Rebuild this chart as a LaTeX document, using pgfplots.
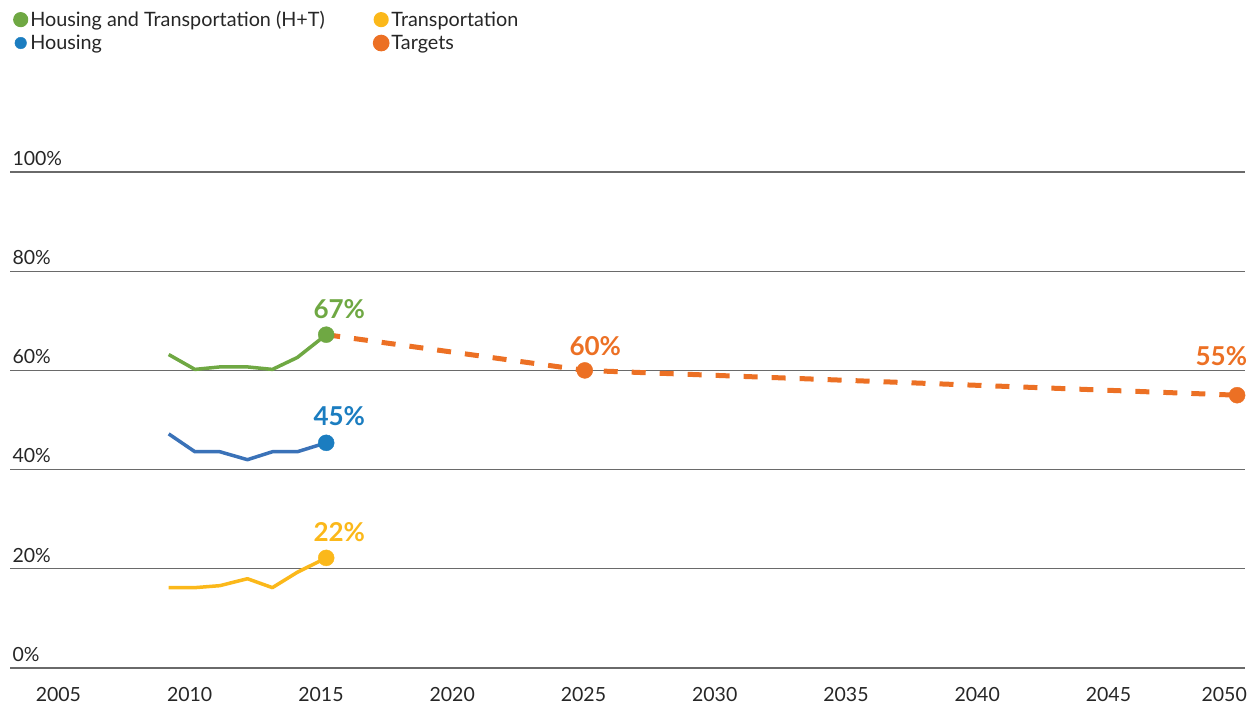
\documentclass[border=0pt]{standalone}
\usepackage{fontspec}
\setmainfont{Lato}
\usepackage{pgfplots}
\pgfplotsset{compat=1.18}
\definecolor{cgreen}{HTML}{6FA843}
\definecolor{cblue}{HTML}{3A72B8}
\definecolor{cbluedot}{HTML}{1B7DC0}
\definecolor{cyellow}{HTML}{FBB81A}
\definecolor{corange}{HTML}{EC7024}
\definecolor{cgrid}{HTML}{6A6A6A}
\begin{document}
\begin{tikzpicture}
\useasboundingbox (0,0) rectangle (1253pt,707pt);
\begin{axis}[
  at={(10pt,39pt)}, anchor=south west,
  scale only axis, width=1235pt, height=496pt,
  xmin=2003.155, xmax=2050.2, ymin=0, ymax=100,
  clip=false,
  axis line style={draw=none},
  major tick length=0pt,
  ytick={0,20,...,100},
  xtick={2005,2010,...,2045},
  extra x ticks={2050},
  extra x tick style={xticklabel style={xshift=-15.5pt}},
  ymajorgrids, grid style={cgrid, line width=1.1pt},
  /pgf/number format/1000 sep={},
  /pgf/number format/assume math mode=true,
  yticklabel={\pgfmathprintnumber{\tick}\%},
  yticklabel style={anchor=south west, xshift=-1pt, yshift=3pt, font=\fontsize{19.5}{22}\selectfont, text=black!85},
  xticklabel style={anchor=center, yshift=-27pt, font=\fontsize{19.5}{22}\selectfont, text=black!85},
  legend columns=2, transpose legend,
  legend style={at={(axis description cs:0.0024,1.3286)}, anchor=north west, draw=none, fill=none,
    font=\fontsize{19.8}{22}\selectfont, text=black!85, inner sep=0pt,
    /tikz/every even column/.append style={column sep=46pt},
    row sep=3pt},
  legend cell align=left,
  legend image code/.code={\path (0pt,0pt) -- (10pt,0pt); \fill[#1, solid] (5.8pt,0pt) circle (5.8pt);},
]
% H+T
\addplot[cgreen, line width=3.5pt, line join=round] coordinates {
 (2009.2,63.2) (2010.2,60.2) (2011.15,60.7) (2012.2,60.7) (2013.15,60.2) (2014.1,62.6) (2015.2,67.2)};
\addlegendentry{Housing and Transportation (H+T)}
% Housing
\addplot[cblue, line width=3.5pt, line join=round, forget plot] coordinates {
 (2009.2,47.2) (2010.2,43.6) (2011.15,43.6) (2012.2,42.0) (2013.15,43.6) (2014.1,43.6) (2015.2,45.4)};
\addlegendimage{cbluedot}
\addlegendentry{Housing}
% Transportation
\addplot[cyellow, line width=3.5pt, line join=round] coordinates {
 (2009.2,16.2) (2010.2,16.2) (2011.15,16.6) (2012.2,18.0) (2013.15,16.2) (2014.1,19.3) (2015.2,22.2)};
\addlegendentry{Transportation}
% Targets
\addplot[corange, line width=5pt, dash pattern=on 14pt off 14pt] coordinates {
 (2015.2,67.2) (2025.05,60) (2049.9,55)};
\addlegendentry{Targets}
% dots
\addplot[only marks, mark=*, mark size=8pt, cgreen, forget plot] coordinates {(2015.2,67.2)};
\addplot[only marks, mark=*, mark size=8pt, cbluedot, forget plot] coordinates {(2015.2,45.4)};
\addplot[only marks, mark=*, mark size=8pt, cyellow, forget plot] coordinates {(2015.2,22.2)};
\addplot[only marks, mark=*, mark size=8pt, corange, forget plot] coordinates {(2025.05,60) (2049.9,55)};
% labels
\node[text=cgreen, font=\fontsize{26}{28}\selectfont\bfseries, anchor=south] at (axis cs:2015.7,69.8) {67\%};
\node[text=cbluedot, font=\fontsize{26}{28}\selectfont\bfseries, anchor=south] at (axis cs:2015.7,48.2) {45\%};
\node[text=cyellow, font=\fontsize{26}{28}\selectfont\bfseries, anchor=south] at (axis cs:2015.7,24.8) {22\%};
\node[text=corange, font=\fontsize{26}{28}\selectfont\bfseries, anchor=south] at (axis cs:2025.45,62.2) {60\%};
\node[text=corange, font=\fontsize{26}{28}\selectfont\bfseries, anchor=south] at (axis cs:2049.3,60.3) {55\%};
\end{axis}
\end{tikzpicture}
\end{document}
